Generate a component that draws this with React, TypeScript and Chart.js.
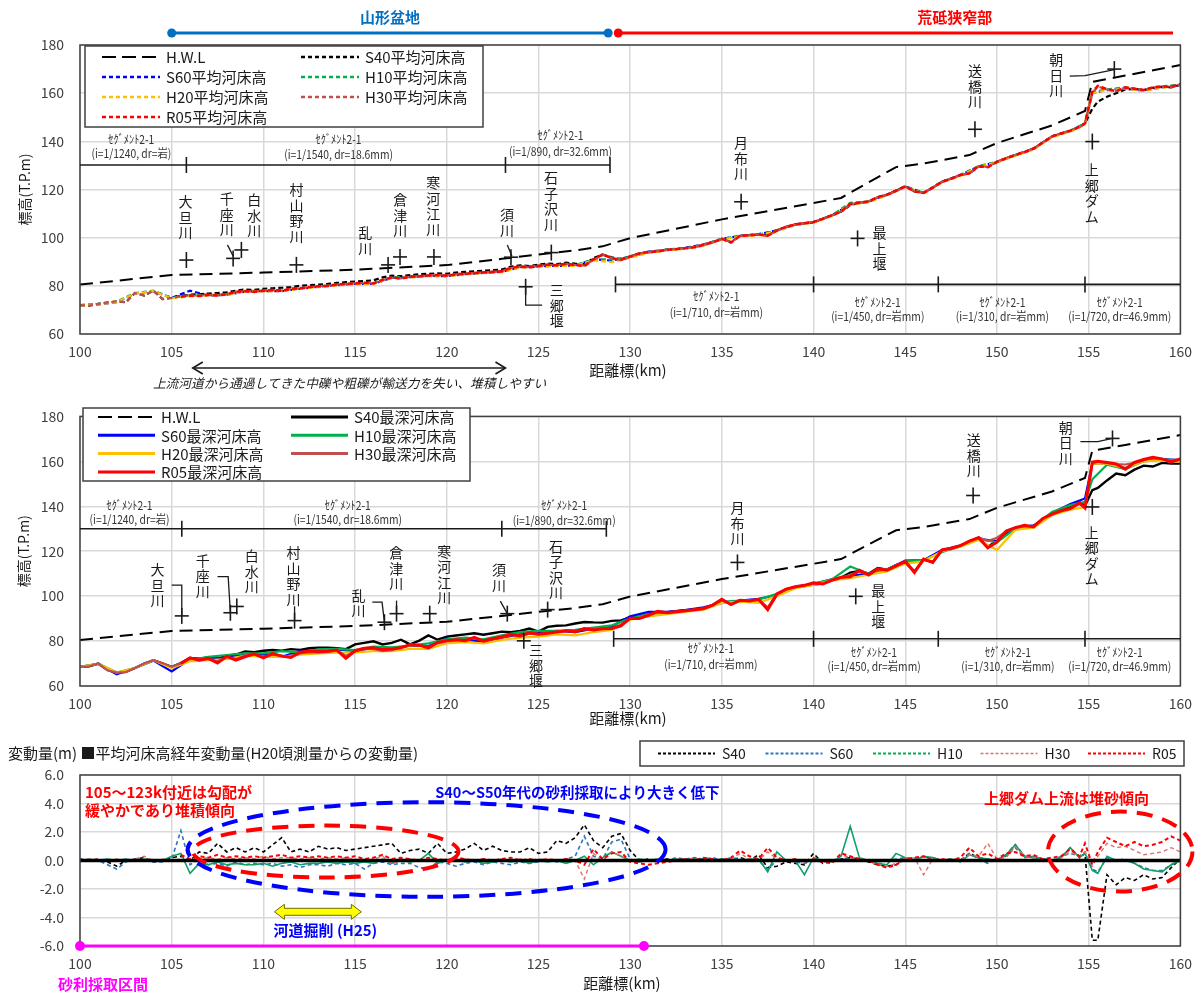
import React, { useEffect, useRef } from 'react';
import { Chart, registerables } from 'chart.js';

Chart.register(...registerables);
const FONT = "'Noto Sans CJK JP', 'Noto Sans', sans-serif";
Chart.defaults.font.family = FONT;

// ---------- sample positions (km) ----------
const KM: number[] = [
  ...Array.from({ length: 110 }, (_, i) => 100 + i * 0.5),
  154.8, 155.2,
  ...Array.from({ length: 10 }, (_, i) => 155.5 + i * 0.5),
];
const KM1: number[] = [
  ...Array.from({ length: 55 }, (_, i) => 100 + i),
  154.8, 155.2, 156, 157, 158, 159, 160,
];

// ---------- H.W.L ----------
const HWL_KM = [100, 105, 110, 115, 120, 123, 125, 127, 128.5, 130, 135, 140, 141.5, 143, 144.5, 146, 148.5, 150, 153, 154.8, 155.2, 157, 160];
const HWL = [80.5, 84.5, 85.5, 86.7, 88.6, 91.2, 93.0, 94.7, 96.4, 99.8, 107.6, 114.4, 116.5, 123.0, 129.3, 130.8, 134.3, 139.3, 146.6, 152.6, 164.7, 167.3, 171.7];

// ---------- Panel 1 : mean bed elevation ----------
const P1_R05 = [
  null, null, null, null, null, null, null, null, null, null,
  null, 75.5, 76.0, 75.8, 76.2, 76.0, 76.5, 77.5, 77.8, 77.5,
  78.0, 78.2, 78.0, 78.8, 79.0, 79.5, 79.8, 80.0, 80.5, 80.8,
  81.0, 81.3, 81.0, 82.5, 83.5, 83.0, 83.8, 84.0, 84.3, 84.5,
  84.2, 84.8, 85.0, 85.3, 85.6, 85.8, 86.0, 87.5, 88.0, 87.6,
  88.3, 88.8, 88.5, 89.2, 88.6, 88.2, 91.0, 93.0, 91.5, 90.8,
  92.2, 93.5, 94.0, 94.3, 95.0, 95.2, 95.6, 96.0, 97.0, 98.0,
  99.5, 98.0, 100.8, 101.0, 101.3, 100.8, 103.0, 104.5, 105.5, 106.0,
  106.5, 107.8, 109.3, 110.8, 114.0, 114.5, 115.0, 116.8, 117.8, 119.5,
  121.3, 119.2, 118.6, 120.8, 123.2, 124.5, 126.0, 126.7, 129.8, 129.3,
  131.5, 133.0, 134.3, 135.5, 137.0, 139.5, 142.0, 143.3, 144.4, 146.0,
  147.5, 160.5, 163.0, 161.6, 160.8, 162.4, 161.8, 161.3, 162.4, 162.8, 162.6, 163.8,
];
const P1_S40 = [
  72.0, 71.8, 72.5, 73.0, 73.5, 73.2, 77.0, 76.0, 78.0, 74.5,
  75.0, 75.8, 76.3, 76.5, 76.8, 77.0, 77.3, 78.0, 78.5, 78.3,
  78.8, 79.0, 79.2, 79.5, 80.0, 80.3, 80.5, 80.8, 81.2, 81.5,
  81.8, 82.0, 82.3, 83.5, 84.2, 84.0, 84.5, 84.8, 85.0, 85.2,
  85.0, 85.5, 85.8, 86.0, 86.3, 86.5, 86.8, 88.0, 88.5, 88.2,
  88.8, 89.3, 89.0, 89.6, 89.2, 89.0, 91.5, 93.0, 91.8, 91.0,
  92.2, 93.5, 94.0, 94.3, 95.0, 95.2, 95.6, 96.0, 97.0, 98.0,
  99.5, 98.2, 100.8, 101.0, 101.3, 101.0, 103.0, 104.5, 105.5, 106.0,
  106.3, 107.8, 109.3, 110.8, 113.5, 114.5, 115.0, 116.8, 117.8, 119.5,
  121.3, 119.2, 118.6, 120.8, 123.2, 124.5, 126.0, 126.7, 129.5, 129.3,
  131.5, 133.0, 134.3, 135.5, 137.0, 139.5, 142.0, 143.3, 144.4, 146.0,
  147.5, 153.5, 156.5, 158.5, 160.0, 161.5, 161.8, 161.3, 162.2, 162.6, 162.4, 163.5,
];
const P1_H30 = [
  72.0, 71.8, 72.5, 73.0, 73.6, 73.2, 77.0, 76.0, 78.0, 74.5,
  75.0, 75.6, 76.0, 75.8, 76.3, 76.0, 76.6, 77.4, 77.8, 77.6,
  78.0, 78.3, 78.0, 78.7, 79.0, 79.4, 79.8, 80.1, 80.5, 80.8,
  81.0, 81.2, 81.1, 82.4, 83.4, 83.1, 83.7, 84.0, 84.2, 84.5,
  84.3, 84.7, 85.0, 85.3, 85.5, 85.8, 86.1, 87.4, 88.0, 87.7,
  88.2, 88.7, 88.6, 89.1, 88.7, 88.4, 90.8, 92.8, 91.6, 90.6,
  92.0, 93.4, 94.0, 94.4, 94.9, 95.3, 95.6, 96.1, 97.0, 98.1,
  99.4, 98.2, 100.7, 101.0, 101.4, 100.6, 103.1, 104.4, 105.4, 106.1,
  106.4, 107.9, 109.2, 110.9, 113.8, 114.6, 115.1, 116.7, 117.8, 119.4,
  121.1, 119.3, 118.7, 120.7, 123.1, 124.6, 125.9, 126.8, 129.6, 129.4,
  131.4, 133.1, 134.2, 135.6, 136.9, 139.4, 142.1, 143.2, 144.5, 145.9,
  147.4, 160.2, 162.8, 161.5, 160.9, 162.2, 161.9, 161.2, 162.3, 162.7, 162.5, 163.6,
];
const P1_S60 = [
  72.0, 72.3, 73.2, 76.8, 77.8,
  75.0, 78.0, 76.0, 76.3, 77.6,
  77.8, 77.8, 78.8, 79.6, 80.3,
  80.8, 80.8, 83.3, 83.6, 84.1,
  84.0, 84.8, 85.4, 85.8, 87.8,
  88.1, 88.3, 88.4, 91.0, 90.5,
  92.0, 94.2, 95.0, 95.8, 97.2,
  99.5, 100.8, 101.5, 103.0, 105.5,
  106.5, 109.3, 113.8, 115.0, 117.8,
  121.3, 118.6, 123.2, 126.0, 129.5,
  131.5, 134.3, 137.0, 142.0, 144.4,
  147.3, 160.0, 161.3, 162.0, 161.0, 162.5, 163.2,
];
const P1_H10 = [
  72.0, 72.5, 73.5, 77.0, 78.0,
  75.0, 76.0, 76.2, 76.5, 77.8,
  78.0, 78.0, 79.0, 79.8, 80.5,
  81.0, 81.0, 83.5, 83.8, 84.3,
  84.2, 85.0, 85.6, 86.0, 88.0,
  88.3, 88.5, 88.6, 91.0, 91.0,
  92.0, 94.0, 95.0, 95.6, 97.0,
  99.5, 100.8, 101.3, 103.0, 105.3,
  106.5, 109.3, 114.5, 115.0, 117.8,
  121.3, 118.6, 123.2, 126.0, 129.8,
  131.5, 134.3, 137.0, 142.0, 144.4,
  147.5, 160.5, 161.6, 162.4, 161.3, 162.8, 163.5,
];
const P1_H20 = [
  71.8, 72.3, 73.3, 76.8, 77.8,
  74.8, 75.6, 76.0, 76.3, 77.5,
  77.7, 77.8, 78.8, 79.5, 80.2,
  80.7, 80.8, 83.2, 83.5, 84.0,
  84.0, 84.7, 85.3, 85.7, 87.6,
  88.0, 88.2, 88.3, 90.6, 89.8,
  91.6, 93.6, 94.7, 95.3, 96.7,
  99.2, 100.5, 101.0, 102.7, 105.2,
  106.2, 109.0, 113.6, 114.7, 117.5,
  121.0, 118.3, 122.9, 125.6, 129.4,
  131.2, 134.0, 136.6, 141.7, 144.0,
  147.0, 160.0, 161.2, 161.9, 160.9, 162.3, 162.8,
];

// ---------- Panel 2 : deepest bed elevation ----------
const P2_R05 = [
  null, null, null, null, null, null, null, null, null, null,
  null, 70.0, 72.5, 71.5, 72.3, 70.2, 73.2, 71.5, 73.0, 74.3,
  72.5, 74.4, 73.3, 72.7, 75.0, 75.6, 75.2, 75.5, 76.0, 72.3,
  75.7, 76.8, 77.0, 76.2, 76.5, 77.0, 78.5, 78.2, 77.0, 79.4,
  80.2, 80.6, 80.2, 81.6, 80.0, 81.0, 81.8, 83.0, 82.4, 83.7,
  83.0, 83.5, 84.0, 84.6, 84.2, 85.6, 84.9, 85.5, 85.6, 87.0,
  90.2, 90.0, 91.5, 93.2, 92.6, 93.0, 93.5, 93.9, 94.5, 96.0,
  98.6, 96.2, 98.2, 97.8, 98.6, 94.0, 101.0, 103.1, 104.2, 104.8,
  105.9, 105.4, 107.0, 108.4, 108.6, 111.5, 109.4, 112.2, 111.5, 113.5,
  115.5, 110.5, 116.5, 115.0, 120.6, 121.3, 122.5, 124.5, 126.0, 121.5,
  124.0, 129.0, 130.5, 131.5, 130.8, 134.6, 136.5, 138.0, 139.0, 141.5,
  139.2, 159.7, 160.0, 159.5, 158.8, 156.5, 159.5, 160.8, 161.8, 161.1, 159.8, 161.1,
];
const P2_S40 = [
  68.5, 68.8, 70.0, 67.2, 66.0, 66.3, 68.0, 70.0, 71.5, 70.0,
  68.5, 70.2, 72.5, 72.0, 72.8, 72.0, 73.5, 74.0, 75.4, 75.0,
  75.7, 76.0, 75.7, 76.4, 76.1, 76.8, 77.1, 77.1, 76.8, 76.4,
  78.5, 79.2, 79.9, 78.5, 79.2, 80.6, 78.5, 80.2, 82.5, 80.6,
  82.0, 82.5, 83.0, 83.5, 82.8, 83.5, 84.2, 83.9, 84.5, 85.6,
  84.2, 86.3, 86.8, 87.0, 87.8, 88.5, 88.3, 88.2, 89.0, 89.2,
  90.5, 91.0, 92.0, 93.0, 92.8, 93.2, 93.7, 94.0, 94.6, 96.0,
  98.3, 96.5, 98.0, 98.0, 98.4, 94.5, 100.5, 103.0, 104.0, 104.5,
  105.2, 105.6, 107.2, 108.2, 110.5, 111.2, 110.0, 112.5, 111.8, 113.8,
  115.0, 111.0, 116.2, 115.2, 120.4, 121.0, 122.3, 124.2, 125.8, 122.0,
  124.5, 128.8, 130.3, 131.2, 131.0, 134.3, 136.3, 138.3, 139.5, 141.8,
  140.2, 147.2, 148.2, 151.5, 154.6, 153.8, 156.3, 158.1, 157.7, 159.3, 159.0, 159.0,
];
const P2_H30 = [
  68.5, 68.8, 70.0, 67.0, 66.0, 66.2, 68.0, 70.0, 71.5, 70.2,
  68.5, 70.0, 72.3, 71.8, 72.0, 71.0, 73.0, 72.0, 73.5, 74.0,
  73.0, 74.0, 73.5, 73.0, 74.5, 75.0, 75.0, 75.2, 75.8, 73.5,
  75.5, 76.5, 76.5, 75.5, 76.0, 77.2, 78.0, 78.0, 77.5, 79.0,
  79.8, 80.3, 80.5, 81.2, 80.3, 80.8, 81.5, 82.6, 82.0, 83.3,
  83.0, 83.8, 84.2, 84.5, 84.5, 85.3, 85.0, 85.8, 85.5, 86.5,
  90.0, 90.3, 91.8, 92.8, 92.5, 93.2, 93.3, 94.0, 94.3, 96.0,
  98.2, 96.5, 98.0, 98.0, 98.3, 95.0, 100.8, 103.0, 104.0, 104.8,
  105.6, 105.4, 107.3, 108.2, 109.5, 111.0, 109.8, 112.0, 111.7, 113.3,
  115.2, 111.0, 116.3, 115.2, 120.3, 121.0, 122.3, 124.5, 126.2, 124.5,
  126.0, 128.8, 130.3, 131.2, 131.0, 134.4, 136.3, 138.0, 139.0, 141.0,
  139.5, 159.0, 159.8, 159.3, 158.8, 158.6, 159.3, 160.5, 161.5, 161.0, 159.5, 160.8,
];
const P2_S60 = [
  68.5, 69.8, 65.2, 68.0, 71.3,
  66.5, 72.0, 72.5, 72.5, 74.0,
  74.0, 73.0, 75.5, 76.0, 76.3,
  75.5, 77.0, 76.8, 78.0, 77.8,
  81.0, 80.5, 79.8, 81.5, 83.0,
  83.5, 84.5, 84.0, 85.5, 86.5,
  91.0, 93.0, 93.0, 93.8, 95.0,
  97.0, 98.0, 98.8, 100.5, 104.0,
  105.5, 107.5, 109.0, 110.0, 111.8,
  115.8, 116.0, 120.5, 122.5, 125.5,
  124.5, 130.5, 131.5, 137.0, 141.0,
  143.5, 159.0, 159.2, 157.0, 160.5, 161.0, 160.5,
];
const P2_H10 = [
  68.5, 70.0, 66.0, 68.0, 71.5,
  68.5, 71.5, 73.0, 73.8, 74.5,
  74.5, 75.5, 75.0, 76.3, 76.5,
  76.0, 77.5, 77.2, 78.0, 79.0,
  80.8, 81.5, 80.8, 82.5, 84.0,
  84.5, 84.5, 85.0, 86.0, 87.0,
  90.0, 92.0, 92.5, 93.5, 94.5,
  97.5, 98.0, 98.5, 101.0, 104.0,
  105.5, 107.5, 113.2, 110.0, 112.0,
  115.5, 116.0, 119.5, 122.5, 125.5,
  124.0, 130.0, 131.0, 137.5, 140.5,
  142.0, 152.0, 158.5, 156.5, 160.0, 160.8, 160.5,
];
const P2_H20 = [
  68.5, 69.8, 66.0, 68.0, 71.5,
  68.0, 71.0, 71.5, 72.0, 73.5,
  73.0, 73.0, 74.0, 74.5, 74.8,
  75.0, 75.5, 75.5, 76.5, 76.5,
  79.0, 79.5, 79.0, 80.5, 81.5,
  82.0, 83.0, 82.5, 84.0, 85.0,
  89.5, 91.0, 92.0, 93.0, 94.0,
  97.0, 97.5, 97.0, 100.0, 103.5,
  105.0, 107.0, 108.0, 109.5, 111.0,
  114.5, 115.5, 120.0, 122.0, 125.0,
  120.5, 129.5, 130.5, 136.0, 138.5,
  139.5, 159.0, 159.0, 157.0, 160.0, 160.5, 159.8,
];

// ---------- Panel 3 : change from H20 survey (m) ----------
const H20_BASE_KM = [100, 160];
const H20_BASE = [0, 0];
const P3_S40 = [
  0.1, 0.0, 0.1, -0.1, -0.4, 0.0, 0.1, 0.2, -0.1, 0.0,
  0.2, 0.3, 0.0, 0.6, 0.5, 1.2, 0.6, 0.9, 0.6, 0.9,
  0.6, 1.1, 1.6, 0.6, 0.8, 0.6, 1.0, 0.8, 0.9, 0.7,
  0.8, 0.9, 1.0, 1.1, 1.2, 0.5, 0.7, 0.8, 0.5, 1.2,
  0.5, 0.6, 0.8, 1.2, 0.7, 1.0, 0.7, 0.6, 0.6, 0.9,
  0.5, 0.6, 1.4, 1.2, 1.6, 2.5, 1.4, 0.9, 1.7, 1.9,
  0.7, 0.0, 0.1, 0.0, 0.1, 0.0, 0.1, 0.0, 0.1, 0.0,
  0.1, 0.0, 0.2, 0.0, 0.4, -0.5, -0.4, -0.1, -0.2, -0.3,
  0.5, -0.2, 0.0, 0.1, 0.2, 0.1, -0.1, -0.3, -0.4, -0.3,
  0.1, 0.0, 0.3, 0.1, 0.0, 0.1, 0.0, 0.5, 0.2, 0.1,
  0.0, 0.4, 1.1, 0.3, 0.2, 0.1, 0.0, 0.2, 0.9, 0.2,
  0.5, -5.6, -5.6, -1.0, -1.7, -1.2, -1.4, -1.0, -1.3, -1.2, -0.5, 0.1,
];
const P3_S60 = [
  0.1, 0.0, 0.0, -0.3, -0.6, -0.1, 0.1, 0.0, -0.1, -0.1,
  0.1, 2.1, -0.3, 0.1, -0.3, -0.2, -0.4, -0.1, -0.3, -0.2,
  -0.3, -0.2, -0.4, -0.3, -0.5, -0.3, -0.3, -0.4, -0.2, -0.3,
  -0.2, -0.6, -0.2, -0.1, -0.3, -0.2, -0.2, -0.5, -0.6, -0.1,
  -0.2, -0.4, -0.2, -0.1, -0.3, -0.1, -0.2, -0.3, -0.1, -0.2,
  -0.1, 0.0, -0.1, 0.1, 0.3, 1.7, 0.3, 0.1, 1.3, 1.5,
  0.1, -0.1, 0.0, 0.1, 0.0, 0.2, 0.1, 0.2, 0.1, 0.2,
  0.0, 0.2, 0.1, 0.0, 0.0, -0.6, 0.0, 0.0, -0.1, -0.2,
  0.0, -0.1, 0.0, 0.1, 0.2, 0.1, 0.0, -0.1, 0.0, 0.1,
  0.2, 0.1, 0.0, 0.2, 0.0, 0.1, 0.0, 0.5, 0.1, -0.2,
  0.1, 0.3, 0.9, 0.2, 0.3, 0.1, 0.0, 0.3, 0.5, 0.3,
  0.6, -0.6, -0.8, 0.2, 0.0, 0.1, -0.2, -0.5, -0.7, -0.7, -0.3, 0.0,
];
const P3_H10 = [
  0.0, 0.1, 0.0, 0.1, 0.0, 0.1, 0.0, 0.1, 0.0, 0.0,
  0.3, 0.5, -0.9, -0.2, -0.3, -0.1, -0.3, -0.2, -0.3, -0.3,
  -0.2, -0.4, -0.2, -0.1, -0.3, -0.2, -0.2, -0.1, -0.2, -0.1,
  -0.2, -0.1, -0.2, 0.1, -0.2, 0.0, -0.1, 0.0, 0.5, -0.2,
  0.0, 0.1, -0.1, 0.0, -0.2, -0.1, 0.0, -0.1, 0.0, -0.2,
  0.0, -0.1, 0.0, -0.2, 0.0, 0.3, -0.3, 0.2, 0.6, 0.3,
  0.0, 0.1, 0.0, 0.1, 0.0, 0.1, 0.0, 0.1, 0.0, 0.0,
  0.1, 0.0, 0.0, 0.1, 0.1, -0.8, 0.6, 0.0, 0.0, -1.0,
  0.2, 0.0, -0.1, 0.3, 2.4, 0.2, 0.0, -0.2, -0.3, 0.5,
  0.2, 0.0, 0.3, 0.2, 0.0, 0.1, -0.1, 0.4, 0.2, 0.1,
  0.0, 0.4, 1.1, 0.3, 0.2, 0.1, 0.0, 0.2, 0.9, 0.2,
  0.5, -0.7, -0.9, 0.3, 0.0, 0.0, -0.2, -0.6, -0.7, -0.8, -0.3, 0.0,
];
const P3_H30 = [
  0.0, 0.1, 0.1, 0.0, 0.1, 0.0, 0.1, 0.3, 0.0, 0.1,
  0.0, 0.1, 0.0, 0.1, 0.2, 0.1, 0.2, 0.1, 0.2, 0.1,
  0.3, 0.1, 0.2, 0.2, 0.1, 0.2, 0.1, 0.2, 0.1, 0.2,
  0.1, 0.0, 0.1, 0.3, -0.2, 0.0, 0.1, 0.0, 0.1, 0.0,
  0.1, 0.0, 0.1, 0.0, 0.1, 0.0, 0.1, 0.0, 0.1, 0.0,
  0.1, 0.0, 0.0, 0.1, 0.0, -1.3, 0.5, 0.0, 0.6, 0.3,
  0.0, -0.1, 0.0, 0.1, 0.0, 0.1, 0.0, 0.2, 0.0, 0.1,
  0.0, 0.1, 0.5, 0.1, 0.0, 0.6, 0.1, 0.0, -0.1, 0.0,
  0.1, 0.0, -0.1, 0.4, 0.2, 0.1, 0.0, -0.3, -0.4, -0.2,
  0.1, 0.2, -1.0, 0.1, 0.0, 0.1, 0.0, 0.4, 0.3, 1.2,
  0.1, 0.2, 1.0, 0.3, 0.2, 0.1, 0.0, 0.2, 0.6, 0.3,
  0.6, -0.4, 0.3, 1.2, 0.9, 1.0, 0.7, 0.4, 0.5, 0.6, 0.9, 0.6,
];
const P3_R05 = [
  null, null, null, null, null, null, null, null, null, null,
  null, 0.4, 0.1, 0.3, 0.2, 0.4, 0.2, 0.3, 0.2, 0.3,
  0.2, 0.3, 0.4, 0.2, 0.3, 0.2, 0.3, 0.2, 0.3, 0.2,
  0.3, 0.1, 0.2, 0.4, 0.1, 0.2, 0.1, 0.0, 0.2, 0.1,
  0.0, 0.2, 0.1, 0.0, 0.1, 0.0, 0.1, 0.2, 0.0, 0.1,
  0.0, 0.1, 0.0, 0.1, 0.0, -0.3, 0.8, 0.1, 0.5, 0.6,
  -0.1, -0.2, -0.3, -0.2, -0.1, 0.0, 0.1, 0.0, 0.2, 0.1,
  0.0, 0.2, 0.7, 0.3, 0.1, 0.9, 0.2, 0.0, 0.1, -0.1,
  0.1, -0.1, -0.2, 0.5, 0.3, 0.1, 0.0, -0.3, -0.5, -0.3,
  0.1, 0.2, 0.3, 0.0, 0.1, 0.0, 0.2, 0.9, 0.3, 0.5,
  0.1, 0.5, 0.6, 0.3, 0.4, 0.1, 0.2, 0.3, 0.8, 0.3,
  1.2, -0.3, 0.6, 1.6, 1.3, 1.0, 1.3, 1.0, 1.1, 1.3, 1.7, 1.4,
];

// ---------- annotations (data coordinates) ----------
type PT = [number, number];
type River = { name: string; cross: PT; text: PT; leader?: PT[] };
const RIVERS_1: River[] = [
  { name: '大旦川', cross: [105.8, 90.7], text: [105.75, 114.9] },
  { name: '千座川', cross: [108.35, 91.4], text: [108.0, 116.1], leader: [[108.04, 97.0], [108.35, 92.4]] },
  { name: '白水川', cross: [108.8, 94.9], text: [109.5, 115.6] },
  { name: '村山野川', cross: [111.8, 88.7], text: [111.8, 119.8] },
  { name: '乱川', cross: [116.8, 88.7], text: [115.56, 102.0] },
  { name: '倉津川', cross: [117.45, 92.0], text: [117.46, 115.6] },
  { name: '寒河江川', cross: [119.3, 92.0], text: [119.26, 122.7] },
  { name: '須川', cross: [123.5, 91.9], text: [123.29, 109.4], leader: [[123.3, 97.0], [123.55, 92.4]] },
  { name: '石子沢川', cross: [125.7, 93.8], text: [125.68, 124.8] },
  { name: '三郷堰', cross: [124.3, 79.6], text: [126.0, 78.3], leader: [[124.3, 79.6], [124.3, 72.0], [125.2, 72.0]] },
  { name: '月布川', cross: [136.05, 114.9], text: [136.05, 139.4] },
  { name: '最上堰', cross: [142.4, 99.7], text: [143.6, 102.0] },
  { name: '送橋川', cross: [148.8, 145.0], text: [148.8, 169.2] },
  { name: '朝日川', cross: [156.4, 170.0], text: [153.24, 173.8], leader: [[153.97, 167.1], [154.8, 167.3], [156.4, 169.8]] },
  { name: '上郷ダム', cross: [155.2, 139.9], text: [155.17, 128.1] },
];
const RIVERS_2: River[] = [
  { name: '大旦川', cross: [105.55, 91.2], text: [104.23, 111.6], leader: [[105.0, 104.9], [105.55, 104.9], [105.55, 91.2]] },
  { name: '千座川', cross: [108.2, 92.6], text: [106.7, 115.8], leader: [[107.5, 108.7], [108.08, 108.7], [108.2, 92.6]] },
  { name: '白水川', cross: [108.55, 95.4], text: [109.36, 117.9] },
  { name: '村山野川', cross: [111.7, 89.1], text: [111.64, 119.2], leader: [[111.7, 89.1], [111.7, 95.5]] },
  { name: '乱川', cross: [116.6, 88.4], text: [115.18, 100.3], leader: [[115.94, 97.3], [116.47, 97.3], [116.6, 88.4]] },
  { name: '倉津川', cross: [117.26, 92.2], text: [117.25, 119.2], leader: [[117.26, 92.2], [117.26, 98.0]] },
  { name: '寒河江川', cross: [119.07, 92.2], text: [119.86, 120.0] },
  { name: '須川', cross: [123.3, 92.2], text: [122.85, 111.6], leader: [[122.92, 97.8], [123.3, 92.2]] },
  { name: '石子沢川', cross: [125.5, 94.0], text: [125.95, 122.1] },
  { name: '三郷堰', cross: [124.2, 80.1], text: [124.86, 76.0] },
  { name: '月布川', cross: [135.85, 115.0], text: [135.85, 139.3] },
  { name: '最上堰', cross: [142.3, 99.9], text: [143.53, 102.4] },
  { name: '送橋川', cross: [148.7, 144.8], text: [148.74, 169.5] },
  { name: '朝日川', cross: [156.3, 170.2], text: [153.75, 175.1], leader: [[154.55, 168.8], [155.5, 168.8], [156.3, 170.2]] },
  { name: '上郷ダム', cross: [155.2, 139.7], text: [155.17, 128.4] },
];
const SEG_TITLE = 'ｾｸﾞﾒﾝﾄ2-1';
const SEG_UP_TEXT = ['(i=1/1240, dr=岩)', '(i=1/1540, dr=18.6mm)', '(i=1/890, dr=32.6mm)'];
const SEG_LO_TEXT = ['(i=1/710, dr=岩mm)', '(i=1/450, dr=岩mm)', '(i=1/310, dr=岩mm)', '(i=1/720, dr=46.9mm)'];
type SegSet = { elev: number; from: number; to: number; ticks: number[]; km: number[]; e1: number[]; e2: number[] };
const SEG_UP_1: SegSet = { elev: 130.2, from: 100, to: 128.9, ticks: [105.8, 123.2, 128.9], km: [102.8, 114.1, 126.2], e1: [140.6, 140.6, 142.6], e2: [134.8, 134.4, 136.0] };
const SEG_LO_1: SegSet = { elev: 80.6, from: 129.2, to: 160, ticks: [129.2, 140.0, 146.8, 154.8], km: [134.7, 143.5, 150.3, 156.7], e1: [75.4, 72.9, 72.9, 72.9], e2: [68.9, 67.1, 67.1, 67.1] };
const SEG_UP_2: SegSet = { elev: 130, from: 100, to: 128.7, ticks: [105.55, 123.0, 128.7], km: [102.7, 114.6, 126.4], e1: [140.2, 140.2, 140.2], e2: [134.3, 134.3, 133.9] };
const SEG_LO_2: SegSet = { elev: 81, from: 129.1, to: 160, ticks: [129.1, 140.0, 146.8, 154.8], km: [134.4, 143.3, 150.6, 156.7], e1: [76.8, 75.1, 75.1, 75.1], e2: [69.8, 68.8, 68.8, 68.8] };
const BASIN = { from: 105, to: 128.8, label: '山形盆地', labelKm: 116.9 };
const GORGE = { from: 129.35, to: 159.6, label: '荒砥狭窄部', labelKm: 147.7 };
const DEPOSIT_ARROW = { from: 106.15, to: 123.2, textKm: 114.7, text: '上流河道から通過してきた中礫や粗礫が輸送力を失い、堆積しやすい' };
const ELLIPSES = [
  { km: 118.9, v: 0.77, rkm: 13.03, rv: 3.32, color: '#0000ff' },
  { km: 113.4, v: 0.63, rkm: 7.24, rv: 1.82, color: '#ff0000' },
  { km: 156.72, v: 0.63, rkm: 3.94, rv: 2.8, color: '#ff0000' },
];
const GRAVEL_RANGE = { from: 100, to: 130.75, v: -6 };
const EXCAV = { from: 110.6, to: 115.34, v: -3.6, textKm: 110.55, textV: -4.9 };

const C = { S40: '#000000', S60: '#0000ff', H10: '#00b050', H20: '#ffc000', H30: '#c0504d', R05: '#ff0000' };
const C3 = { S40: '#000000', S60: '#2e75b6', H10: '#0fa068', H30: '#e07070', R05: '#ff0000' };

// ---------- helpers ----------
const X = (c: any, v: number) => c.scales.x.getPixelForValue(v);
const Y = (c: any, v: number) => c.scales.y.getPixelForValue(v);

function series(label: string, xs: number[], ys: (number | null)[], color: string, width: number, dash: number[]) {
  return {
    label,
    data: xs.map((x, i) => ({ x, y: ys[i] })),
    borderColor: color,
    backgroundColor: color,
    borderWidth: width,
    borderDash: dash,
    pointRadius: 0,
    fill: false,
    tension: 0,
    spanGaps: false,
  };
}

function txt(ctx: any, s: string, x: number, y: number, font: string, color: string, align = 'center', baseline = 'middle') {
  ctx.save();
  ctx.font = font;
  ctx.fillStyle = color;
  ctx.textAlign = align;
  ctx.textBaseline = baseline;
  ctx.fillText(s, x, y);
  ctx.restore();
}
function vtxt(ctx: any, s: string, x: number, y: number, step: number, font: string, color: string) {
  Array.from(s).forEach((ch, i) => txt(ctx, ch, x, y + i * step, font, color));
}
function poly(ctx: any, pts: PT[], color: string, width: number, dash: number[] = []) {
  ctx.save();
  ctx.strokeStyle = color;
  ctx.lineWidth = width;
  ctx.setLineDash(dash);
  ctx.beginPath();
  pts.forEach((p, i) => (i === 0 ? ctx.moveTo(p[0], p[1]) : ctx.lineTo(p[0], p[1])));
  ctx.stroke();
  ctx.restore();
}
function dot(ctx: any, x: number, y: number, r: number, color: string) {
  ctx.save();
  ctx.fillStyle = color;
  ctx.beginPath();
  ctx.arc(x, y, r, 0, Math.PI * 2);
  ctx.fill();
  ctx.restore();
}
function cross(ctx: any, x: number, y: number, h: number) {
  poly(ctx, [[x - h, y], [x + h, y]], '#1a1a1a', 1.6);
  poly(ctx, [[x, y - h - 1], [x, y + h + 1]], '#1a1a1a', 1.6);
}
function frame(c: any) {
  const { ctx, chartArea: a } = c;
  ctx.save();
  ctx.strokeStyle = '#404040';
  ctx.lineWidth = 1.5;
  ctx.setLineDash([]);
  ctx.strokeRect(a.left, a.top, a.right - a.left, a.bottom - a.top);
  ctx.restore();
}
function drawRivers(c: any, rivers: River[]) {
  const ctx = c.ctx;
  rivers.forEach((r) => {
    if (r.leader) poly(ctx, r.leader.map((p) => [X(c, p[0]), Y(c, p[1])] as PT), '#1a1a1a', 1.3);
    cross(ctx, X(c, r.cross[0]), Y(c, r.cross[1]), 7);
    vtxt(ctx, r.name, X(c, r.text[0]), Y(c, r.text[1]), 15.5, `14px ${FONT}`, '#1a1a1a');
  });
}
function segLabel(ctx: any, s: string, x: number, y: number) {
  ctx.save();
  ctx.translate(x, y);
  ctx.scale(0.86, 1);
  ctx.font = `12px ${FONT}`;
  ctx.fillStyle = '#333';
  ctx.textAlign = 'center';
  ctx.textBaseline = 'middle';
  ctx.fillText(s, 0, 0);
  ctx.restore();
}
function drawSegs(c: any, s: SegSet, texts: string[]) {
  const ctx = c.ctx;
  const y = Y(c, s.elev);
  poly(ctx, [[X(c, s.from), y], [X(c, s.to), y]], '#1a1a1a', 1.6);
  s.ticks.forEach((t) => poly(ctx, [[X(c, t), y - 8], [X(c, t), y + 8]], '#1a1a1a', 1.6));
  s.km.forEach((k, i) => {
    segLabel(ctx, SEG_TITLE, X(c, k), Y(c, s.e1[i]));
    segLabel(ctx, texts[i], X(c, k), Y(c, s.e2[i]));
  });
}
type LegItem = [string, string, number, number[]];
function drawLegend(ctx: any, items: LegItem[], box: number[], cols: number[][], rows: number[], font: string) {
  ctx.save();
  ctx.fillStyle = '#ffffff';
  ctx.fillRect(box[0], box[1], box[2], box[3]);
  ctx.strokeStyle = '#404040';
  ctx.lineWidth = 1.5;
  ctx.strokeRect(box[0], box[1], box[2], box[3]);
  ctx.restore();
  items.forEach((it, i) => {
    const col = cols[i % cols.length];
    const y = rows[Math.floor(i / cols.length)];
    poly(ctx, [[col[0], y], [col[1], y]], it[1], it[2], it[3]);
    txt(ctx, it[0], col[2], y + 0.5, font, '#1a1a1a', 'left');
  });
}
function yTitle(ctx: any, s: string, x: number, y: number) {
  ctx.save();
  ctx.translate(x, y);
  ctx.rotate(-Math.PI / 2);
  ctx.font = `14px ${FONT}`;
  ctx.fillStyle = '#1a1a1a';
  ctx.textAlign = 'center';
  ctx.textBaseline = 'middle';
  ctx.fillText(s, 0, 0);
  ctx.restore();
}

function makeOptions(o: { ymin: number; ymax: number; ystep: number; padTop: number; xHeight: number; decimals?: boolean }) {
  const tickFont = { size: 14, family: FONT };
  const grid = { color: '#d9d9d9', lineWidth: 1.5, drawTicks: false };
  const yTicks: any = { stepSize: o.ystep, color: '#404040', font: tickFont, padding: 16 };
  if (o.decimals) yTicks.callback = (v: any) => Number(v).toFixed(1);
  return {
    responsive: false,
    maintainAspectRatio: false,
    animation: false,
    devicePixelRatio: 1,
    events: [],
    layout: { padding: { top: o.padTop, right: 18, left: 0, bottom: 0 } },
    plugins: { legend: { display: false }, tooltip: { enabled: false }, title: { display: false } },
    scales: {
      x: {
        type: 'linear', min: 100, max: 160,
        ticks: { stepSize: 5, color: '#404040', font: tickFont, padding: 9, maxRotation: 0, autoSkip: false },
        grid, border: { display: false },
        afterFit: (s: any) => { s.height = o.xHeight; },
      },
      y: {
        type: 'linear', min: o.ymin, max: o.ymax,
        ticks: yTicks, grid, border: { display: false },
        afterFit: (s: any) => { s.width = 80; },
      },
    },
  };
}

const DASH = [5, 3];
const HWL_DASH = [13, 7];

function config1(): any {
  return {
    type: 'line',
    data: {
      datasets: [
        series('R05平均河床高', KM, P1_R05, C.R05, 2.6, DASH),
        series('H30平均河床高', KM, P1_H30, C.H30, 2.2, DASH),
        series('H20平均河床高', KM1, P1_H20, C.H20, 2.2, DASH),
        series('H10平均河床高', KM1, P1_H10, C.H10, 2.2, DASH),
        series('S60平均河床高', KM1, P1_S60, C.S60, 2.2, DASH),
        series('S40平均河床高', KM, P1_S40, C.S40, 2.2, DASH),
        series('H.W.L', HWL_KM, HWL, '#000000', 2, HWL_DASH),
      ],
    },
    options: makeOptions({ ymin: 60, ymax: 180, ystep: 20, padTop: 45, xHeight: 58 }),
    plugins: [{
      id: 'p1deco',
      afterDraw(c: any) {
        const ctx = c.ctx;
        frame(c);
        // header
        const yl = 33;
        poly(ctx, [[X(c, BASIN.from), yl], [X(c, BASIN.to), yl]], '#0070c0', 3);
        dot(ctx, X(c, BASIN.from), yl, 4.5, '#0070c0');
        dot(ctx, X(c, BASIN.to), yl, 4.5, '#0070c0');
        txt(ctx, BASIN.label, X(c, BASIN.labelKm), 17, `bold 15px ${FONT}`, '#0070c0');
        poly(ctx, [[X(c, GORGE.from), yl], [X(c, GORGE.to), yl]], '#ff0000', 3);
        dot(ctx, X(c, GORGE.from), yl, 4.5, '#ff0000');
        txt(ctx, GORGE.label, X(c, GORGE.labelKm), 17, `bold 15px ${FONT}`, '#ff0000');
        drawSegs(c, SEG_UP_1, SEG_UP_TEXT);
        drawSegs(c, SEG_LO_1, SEG_LO_TEXT);
        drawRivers(c, RIVERS_1);
        drawLegend(ctx, [
          ['H.W.L', '#000', 2, [14, 6]],
          ['S40平均河床高', C.S40, 2.5, [4, 3]],
          ['S60平均河床高', C.S60, 2.5, [4, 3]],
          ['H10平均河床高', C.H10, 2.5, [4, 3]],
          ['H20平均河床高', C.H20, 2.5, [4, 3]],
          ['H30平均河床高', C.H30, 2.5, [4, 3]],
          ['R05平均河床高', C.R05, 2.5, [4, 3]],
        ], [85, 46, 398, 81], [[102, 160, 166], [301, 359, 365]], [57, 77, 97, 117], `15px ${FONT}`);
        yTitle(ctx, '標高(T.P.m)', 25, (c.chartArea.top + c.chartArea.bottom) / 2);
        txt(ctx, '距離標(km)', 628, 370, `15px ${FONT}`, '#1a1a1a');
        // deposit arrow
        const ay = 368;
        const x1 = X(c, DEPOSIT_ARROW.from), x2 = X(c, DEPOSIT_ARROW.to);
        poly(ctx, [[x1, ay], [x2, ay]], '#1a1a1a', 1.6);
        poly(ctx, [[x1 + 10, ay - 6], [x1, ay], [x1 + 10, ay + 6]], '#1a1a1a', 1.6);
        poly(ctx, [[x2 - 10, ay - 6], [x2, ay], [x2 - 10, ay + 6]], '#1a1a1a', 1.6);
        txt(ctx, DEPOSIT_ARROW.text, X(c, DEPOSIT_ARROW.textKm), 383, `italic 12.7px ${FONT}`, '#1a1a1a');
      },
    }],
  };
}

function config2(): any {
  return {
    type: 'line',
    data: {
      datasets: [
        series('R05最深河床高', KM, P2_R05, C.R05, 3, []),
        series('H30最深河床高', KM, P2_H30, C.H30, 2.2, []),
        series('H20最深河床高', KM1, P2_H20, C.H20, 2.2, []),
        series('H10最深河床高', KM1, P2_H10, C.H10, 2.2, []),
        series('S60最深河床高', KM1, P2_S60, C.S60, 2.2, []),
        series('S40最深河床高', KM, P2_S40, C.S40, 2.4, []),
        series('H.W.L', HWL_KM, HWL, '#000000', 2, HWL_DASH),
      ],
    },
    options: makeOptions({ ymin: 60, ymax: 180, ystep: 20, padTop: 8, xHeight: 44 }),
    plugins: [{
      id: 'p2deco',
      afterDraw(c: any) {
        const ctx = c.ctx;
        frame(c);
        drawSegs(c, SEG_UP_2, SEG_UP_TEXT);
        drawSegs(c, SEG_LO_2, SEG_LO_TEXT);
        drawRivers(c, RIVERS_2);
        drawLegend(ctx, [
          ['H.W.L', '#000', 2, [14, 6]],
          ['S40最深河床高', C.S40, 3, []],
          ['S60最深河床高', C.S60, 3, []],
          ['H10最深河床高', C.H10, 3, []],
          ['H20最深河床高', C.H20, 3, []],
          ['H30最深河床高', C.H30, 3, []],
          ['R05最深河床高', C.R05, 3, []],
        ], [83, 16, 387, 73], [[98, 155, 161], [291, 348, 354]], [25, 43.3, 61.6, 80], `15px ${FONT}`);
        yTitle(ctx, '標高(T.P.m)', 24, (c.chartArea.top + c.chartArea.bottom) / 2);
        txt(ctx, '距離標(km)', 628, 326, `15px ${FONT}`, '#1a1a1a');
      },
    }],
  };
}

function config3(): any {
  return {
    type: 'line',
    data: {
      datasets: [
        series('H20', H20_BASE_KM, H20_BASE, '#000000', 3.5, []),
        series('R05', KM, P3_R05, C3.R05, 2, [4, 3]),
        series('H30', KM, P3_H30, C3.H30, 1.4, [4, 3]),
        series('H10', KM, P3_H10, C3.H10, 1.6, []),
        series('S60', KM, P3_S60, C3.S60, 1.6, [4, 3]),
        series('S40', KM, P3_S40, C3.S40, 1.6, [4, 3]),
      ],
    },
    options: makeOptions({ ymin: -6, ymax: 6, ystep: 2, padTop: 45, xHeight: 47, decimals: true }),
    plugins: [{
      id: 'p3deco',
      afterDraw(c: any) {
        const ctx = c.ctx;
        frame(c);
        txt(ctx, '変動量(m) ■平均河床高経年変動量(H20頃測量からの変動量)', 8, 23, `15px ${FONT}`, '#1a1a1a', 'left');
        // legend
        ctx.save();
        ctx.fillStyle = '#fff';
        ctx.fillRect(640, 11, 544, 25);
        ctx.strokeStyle = '#404040';
        ctx.lineWidth = 1.5;
        ctx.strokeRect(640, 11, 544, 25);
        ctx.restore();
        const leg: LegItem[] = [
          ['S40', C3.S40, 2, [3, 2]],
          ['S60', C3.S60, 2, [3, 2]],
          ['H10', '#00b050', 2, [3, 2]],
          ['H30', C3.H30, 1.6, [3, 2]],
          ['R05', C3.R05, 2, [3, 2]],
        ];
        leg.forEach((it, i) => {
          const x1 = 658 + i * 107.5;
          poly(ctx, [[x1, 23.5], [x1 + 57, 23.5]], it[1], it[2], it[3]);
          txt(ctx, it[0], x1 + 64, 24, `14px ${FONT}`, '#1a1a1a', 'left');
        });
        // ellipses
        ELLIPSES.forEach((e) => {
          const cx = X(c, e.km), cy = Y(c, e.v);
          const rx = Math.abs(X(c, e.km + e.rkm) - cx), ry = Math.abs(Y(c, e.v + e.rv) - cy);
          ctx.save();
          ctx.strokeStyle = e.color;
          ctx.lineWidth = 4;
          ctx.setLineDash([16, 10]);
          ctx.beginPath();
          ctx.ellipse(cx, cy, rx, ry, 0, 0, Math.PI * 2);
          ctx.stroke();
          ctx.restore();
        });
        // texts
        txt(ctx, '105～123k付近は勾配が', X(c, 100.27), Y(c, 4.76), `bold 15px ${FONT}`, '#ff0000', 'left');
        txt(ctx, '緩やかであり堆積傾向', X(c, 100.27), Y(c, 3.5), `bold 15px ${FONT}`, '#ff0000', 'left');
        txt(ctx, 'S40～S50年代の砂利採取により大きく低下', X(c, 119.37), Y(c, 4.76), `bold 14.5px ${FONT}`, '#0000ff', 'left');
        txt(ctx, '上郷ダム上流は堆砂傾向', X(c, 149.3), Y(c, 4.4), `bold 15px ${FONT}`, '#ff0000', 'left');
        // excavation arrow
        const ay = Y(c, EXCAV.v), ax1 = X(c, EXCAV.from), ax2 = X(c, EXCAV.to);
        const sh = 3.5, hh = 7.5, hl = 10;
        ctx.save();
        ctx.beginPath();
        ctx.moveTo(ax1, ay);
        ctx.lineTo(ax1 + hl, ay - hh); ctx.lineTo(ax1 + hl, ay - sh); ctx.lineTo(ax2 - hl, ay - sh); ctx.lineTo(ax2 - hl, ay - hh);
        ctx.lineTo(ax2, ay);
        ctx.lineTo(ax2 - hl, ay + hh); ctx.lineTo(ax2 - hl, ay + sh); ctx.lineTo(ax1 + hl, ay + sh); ctx.lineTo(ax1 + hl, ay + hh);
        ctx.closePath();
        ctx.fillStyle = '#ffff00';
        ctx.fill();
        ctx.strokeStyle = '#6b6b00';
        ctx.lineWidth = 1;
        ctx.stroke();
        ctx.restore();
        txt(ctx, '河道掘削 (H25)', X(c, EXCAV.textKm), Y(c, EXCAV.textV), `bold 15px ${FONT}`, '#0000ff', 'left');
        // gravel extraction range
        const gy = Y(c, GRAVEL_RANGE.v);
        poly(ctx, [[X(c, GRAVEL_RANGE.from), gy], [X(c, GRAVEL_RANGE.to), gy]], '#ff00ff', 3);
        dot(ctx, X(c, GRAVEL_RANGE.from), gy, 5, '#ff00ff');
        dot(ctx, X(c, GRAVEL_RANGE.to), gy, 5, '#ff00ff');
        txt(ctx, '砂利採取区間', 58, 254, `bold 15px ${FONT}`, '#ff00ff', 'left');
        txt(ctx, '距離標(km)', 622, 253, `15px ${FONT}`, '#1a1a1a');
      },
    }],
  };
}

export default function App() {
  const r1 = useRef<HTMLCanvasElement>(null);
  const r2 = useRef<HTMLCanvasElement>(null);
  const r3 = useRef<HTMLCanvasElement>(null);
  useEffect(() => {
    const charts = [
      new Chart(r1.current as HTMLCanvasElement, config1()),
      new Chart(r2.current as HTMLCanvasElement, config2()),
      new Chart(r3.current as HTMLCanvasElement, config3()),
    ];
    return () => charts.forEach((ch) => ch.destroy());
  }, []);
  return (
    <div style={{ position: 'absolute', left: 0, top: 0, width: 1201, height: 993, background: '#ffffff', overflow: 'hidden' }}>
      <canvas ref={r1} width={1201} height={392} style={{ position: 'absolute', left: 0, top: 0, width: 1201, height: 392 }} />
      <canvas ref={r2} width={1201} height={338} style={{ position: 'absolute', left: 0, top: 392, width: 1201, height: 338 }} />
      <canvas ref={r3} width={1201} height={263} style={{ position: 'absolute', left: 0, top: 730, width: 1201, height: 263 }} />
    </div>
  );
}
